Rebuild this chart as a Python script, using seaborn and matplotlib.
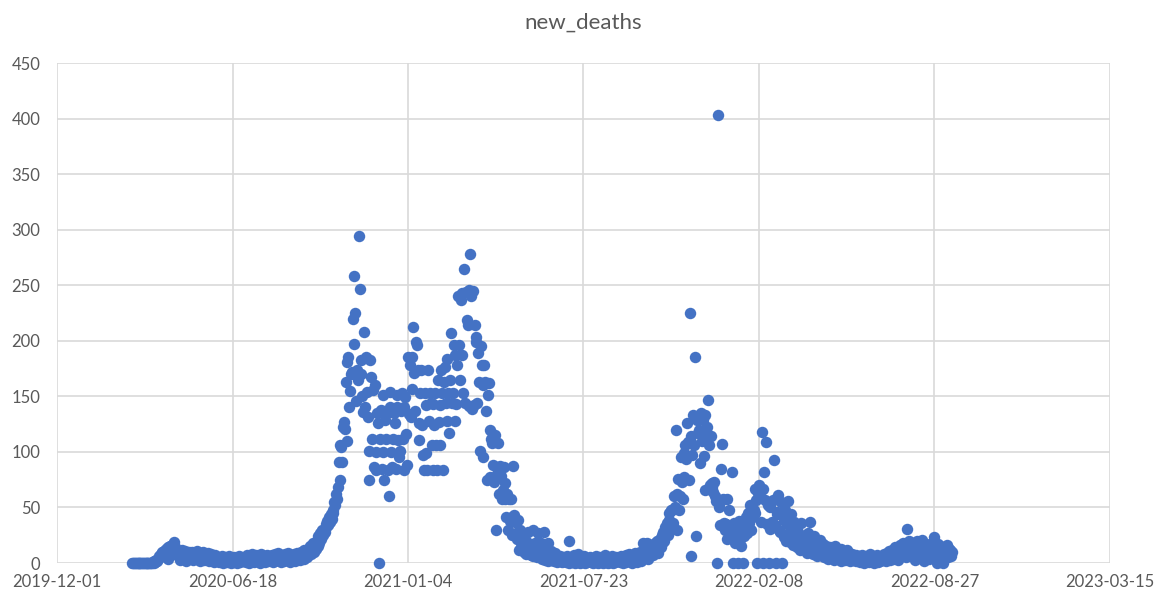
import pandas as pd
import seaborn as sns
import matplotlib.pyplot as plt
import matplotlib.dates as mdates

# daily new deaths
# 2020: series starts 2020-02-25
START_2020 = "2020-02-25"
deaths_2020 = [
    0, 0, 0, 0, 0,                                                        # Feb
    0, 0, 0, 0, 0, 0, 0, 0, 0, 0, 0, 0, 0, 0, 0, 0, 0, 0,
    1, 0, 2, 1, 3, 2, 4, 6, 5, 8, 7, 10, 9,                               # Mar
    11, 8, 13, 10, 4, 14, 12, 15, 11, 16, 13, 19, 14, 9, 12, 7, 11, 10,
    3, 9, 12, 6, 10, 8, 11, 2, 9, 7, 10, 5,                               # Apr
    8, 6, 10, 3, 7, 9, 5, 11, 4, 8, 6, 2, 9, 7, 10, 5, 3, 8, 6, 4,
    9, 2, 7, 5, 8, 3, 6, 1, 7, 4, 5,                                      # May
    3, 5, 1, 4, 2, 6, 0, 3, 5, 2, 4, 1, 3, 6, 2, 0, 4, 3, 1, 5,
    2, 4, 0, 3, 6, 1, 2, 5, 3, 4,                                         # Jun
    2, 5, 1, 7, 3, 4, 0, 6, 2, 8, 3, 5, 1, 4, 7, 2, 6, 3, 0, 5,
    8, 2, 4, 6, 1, 3, 7, 5, 2, 4, 6,                                      # Jul
    3, 7, 1, 5, 8, 2, 6, 4, 9, 3, 5, 1, 7, 4, 6, 2, 8, 5, 3, 9,
    4, 6, 1, 7, 5, 3, 8, 2, 6, 4, 9,                                      # Aug
    5, 8, 3, 10, 6, 9, 4, 12, 7, 11, 5, 13, 9, 15, 8, 14, 11, 18, 10, 16,
    13, 20, 15, 24, 18, 27, 22, 30, 25, 28,                               # Sep
    28, 35, 32, 38, 34, 41, 37, 44, 40, 48, 45, 55, 52, 62, 58, 68, 91,
    75, 106, 104, 91, 122, 127, 121, 163, 110, 181, 185, 140, 155, 170,   # Oct
    172, 220, 258, 197, 225, 146, 174, 165, 294, 247, 170, 183, 150, 136,
    208, 140, 185, 154, 131, 101, 75, 183, 167, 112, 156, 86, 160, 84,
    100, 135,                                                             # Nov
    126, 0, 112, 138, 85, 100, 151, 75, 129, 112, 135, 84, 60, 140, 154,
    100, 86, 112, 135, 126, 85, 140, 151, 111, 95, 101, 137, 153, 112,
    140, 84,                                                              # Dec
]

START_2021 = "2021-01-01"
deaths_2021 = [
    149, 116, 88, 185, 134, 178, 131, 185, 157, 212, 171, 137, 199, 196,
    174, 126, 111, 153, 174, 124, 97, 84, 153, 99, 142, 84, 174, 128, 153,
    144, 106,                                                             # Jan
    84, 143, 124, 153, 106, 84, 165, 127, 142, 106, 174, 153, 84, 163,
    176, 144, 184, 128, 153, 117, 165, 207, 144, 153, 196, 128, 187, 143, # Feb
    178, 240, 196, 165, 237, 243, 187, 153, 265, 144, 244, 219, 214, 141,
    246, 278, 240, 139, 245, 142, 214, 203, 199, 144, 189, 163, 101, 195,
    178, 160, 95,                                                         # Mar
    178, 163, 137, 75, 151, 162, 120, 77, 112, 108, 88, 73, 115, 30, 80,
    86, 108, 62, 87, 78, 58, 66, 86, 72, 58, 41, 62, 30, 58, 38,          # Apr
    58, 41, 25, 87, 43, 37, 27, 22, 39, 24, 12, 30, 18, 15, 23, 10, 14,
    20, 8, 13, 28, 9, 17, 7, 12, 30, 6, 10, 18, 8, 5,                     # May
    27, 9, 5, 12, 18, 4, 7, 28, 3, 10, 6, 18, 2, 8, 5, 11, 3, 6, 2, 9,
    4, 7, 1, 5, 3, 6, 2, 4, 1, 5,                                         # Jun
    2, 4, 1, 6, 3, 0, 20, 2, 5, 1, 3, 7, 0, 2, 4, 1, 8, 2, 0, 3,
    5, 1, 2, 6, 0, 3, 1, 4, 2, 5, 1,                                      # Jul
    3, 1, 0, 4, 2, 6, 1, 3, 0, 2, 5, 1, 4, 0, 2, 3, 7, 1, 2, 0,
    4, 1, 3, 6, 2, 0, 4, 1, 5, 2, 3,                                      # Aug
    2, 4, 1, 6, 3, 0, 5, 2, 7, 1, 4, 3, 8, 2, 5, 0, 3, 6, 2, 9,
    4, 1, 7, 3, 10, 2, 5, 8, 18, 11,                                      # Sep
    6, 12, 18, 4, 9, 14, 8, 16, 11, 7, 15, 10, 18, 13, 20, 9, 16, 22, 14,
    25, 18, 28, 20, 32, 30, 36, 25, 39, 45, 34, 48,                       # Oct
    48, 36, 60, 50, 120, 30, 62, 76, 48, 60, 95, 73, 58, 99, 77, 106, 94,
    126, 109, 75, 225, 114, 6, 97, 133, 106, 185, 24, 129, 117,           # Nov
    131, 120, 90, 135, 110, 129, 96, 66, 133, 117, 122, 147, 106, 70, 114,
    72, 68, 64, 73, 60, 56, 0, 403, 50, 34, 55, 85, 107, 58, 36, 30,      # Dec
]

START_2022 = "2022-01-01"
deaths_2022 = [
    35, 22, 58, 30, 48, 26, 33, 82, 0, 28, 36, 18, 31, 25, 0, 38, 22, 29,
    15, 34, 0, 24, 30, 41, 27, 45, 33, 36, 52, 30, 48,                    # Jan
    41, 48, 45, 67, 57, 0, 63, 70, 60, 37, 118, 67, 0, 82, 57, 109, 35,
    52, 0, 31, 50, 55, 37, 57, 93, 34, 0, 44,                             # Feb
    46, 61, 30, 28, 55, 0, 42, 23, 39, 48, 20, 35, 56, 27, 19, 44, 30,
    25, 16, 37, 22, 33, 14, 28, 18, 25, 12, 36, 20, 15, 24,               # Mar
    18, 12, 22, 9, 27, 15, 37, 11, 20, 8, 16, 24, 10, 14, 6, 19, 12, 21,
    7, 13, 9, 17, 5, 11, 15, 8, 12, 4, 10, 14,                            # Apr
    8, 12, 5, 10, 3, 15, 7, 9, 4, 11, 6, 13, 2, 8, 5, 10, 3, 7, 12, 4,
    6, 9, 2, 5, 8, 3, 6, 4, 7, 2, 5,                                      # May
    3, 6, 1, 4, 7, 2, 5, 0, 3, 6, 2, 4, 1, 5, 8, 2, 3, 6, 0, 4,
    2, 7, 3, 1, 5, 2, 4, 6, 3, 8,                                         # Jun
    4, 7, 2, 9, 5, 11, 3, 8, 6, 12, 4, 9, 14, 7, 10, 3, 13, 8, 16, 6,
    11, 18, 9, 14, 5, 17, 31, 12, 20, 8, 15,                              # Jul
    10, 18, 6, 14, 3, 12, 20, 9, 16, 5, 13, 19, 21, 15, 2, 11, 17, 7, 8,
    12, 4, 16, 10, 18, 6, 14, 23, 9, 13, 0, 17,                           # Aug
    8, 15, 4, 12, 10, 0, 14, 7, 11, 16, 5, 13, 9, 12, 6, 10,              # Sep
]

X_TICKS = pd.date_range("2019-12-01", "2023-03-15", freq="200D")
Y_TICKS = list(range(0, 451, 50))

BLUE = "#4472C4"
GREY_TEXT = "#595959"
GRID = "#d9d9d9"


def frame(values, start):
    dates = pd.date_range(start, periods=len(values), freq="D")
    return pd.DataFrame({"date": dates, "new_deaths": values})


df = pd.concat([frame(deaths_2020, START_2020),
                frame(deaths_2021, START_2021),
                frame(deaths_2022, START_2022)], ignore_index=True)

sns.set_theme(style="whitegrid")
plt.rcParams["font.family"] = ["Lato", "DejaVu Sans"]

fig, ax = plt.subplots(figsize=(11.67, 5.98), dpi=100)
fig.subplots_adjust(left=57 / 1167, right=1110 / 1167,
                    top=1 - 63 / 598, bottom=1 - 563 / 598)

sns.scatterplot(data=df, x="date", y="new_deaths", ax=ax, color=BLUE,
                s=68, linewidth=0, alpha=1, clip_on=False, zorder=3)

ax.set_xlim(X_TICKS[0], X_TICKS[-1])
ax.set_xticks(X_TICKS)
ax.xaxis.set_major_formatter(mdates.DateFormatter("%Y-%m-%d"))
ax.set_ylim(0, 450)
ax.set_yticks(Y_TICKS)

ax.grid(True, color=GRID, linewidth=1.2)
ax.set_axisbelow(True)
for s in ax.spines.values():
    s.set_visible(False)
ax.tick_params(axis="both", length=0, labelsize=12, labelcolor=GREY_TEXT)
ax.tick_params(axis="x", pad=8)
ax.tick_params(axis="y", pad=12)
ax.set_xlabel("")
ax.set_ylabel("")

fig.text(0.5, 1 - 23 / 598, "new_deaths", ha="center", va="center",
         fontsize=16, color=GREY_TEXT)

fig.savefig("out.png", dpi=100)
